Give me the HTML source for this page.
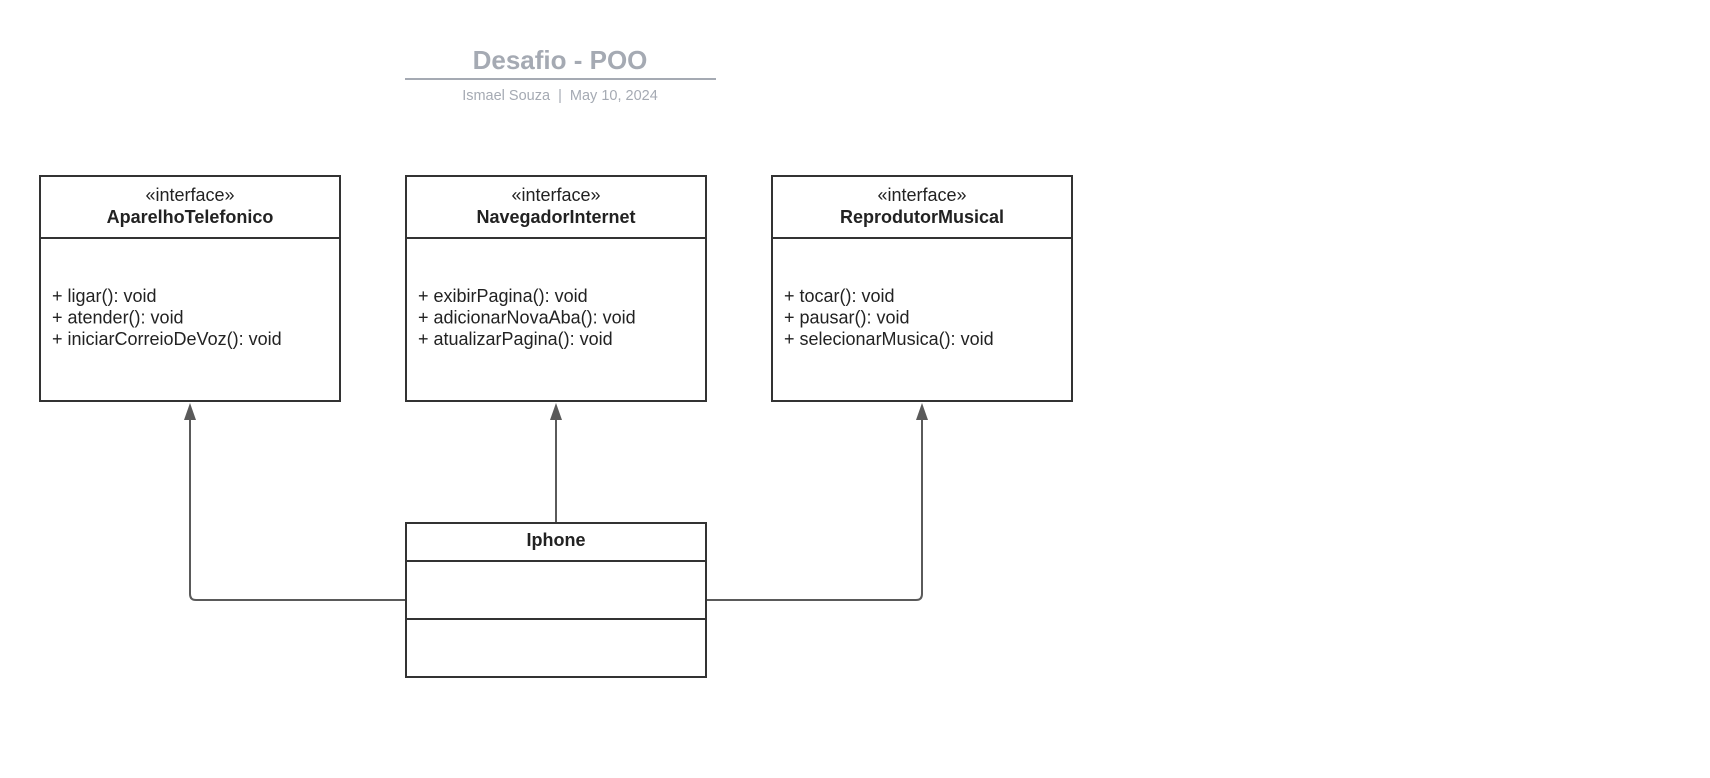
<!DOCTYPE html>
<html><head><meta charset="utf-8"><style>
body{margin:0;background:#fff;}
svg{display:block;}
text{font-family:"Liberation Sans",Arial,sans-serif;}
</style></head><body>
<svg width="1710" height="778" viewBox="0 0 1710 778" xmlns="http://www.w3.org/2000/svg">
<rect width="1710" height="778" fill="#fff"/>
<text x="560" y="69" text-anchor="middle" font-size="26" font-weight="bold" fill="#a5aab3">Desafio - POO</text>
<line x1="405" y1="79" x2="716" y2="79" stroke="#a5aab3" stroke-width="2"/>
<text x="560" y="100" text-anchor="middle" font-size="14.5" fill="#a5aab3">Ismael Souza&#160;&#160;|&#160;&#160;May 10, 2024</text>

<g stroke="#333" stroke-width="2" fill="#fff">
<rect x="40" y="176" width="300" height="225"/><line x1="40" y1="238" x2="340" y2="238"/>
<rect x="406" y="176" width="300" height="225"/><line x1="406" y1="238" x2="706" y2="238"/>
<rect x="772" y="176" width="300" height="225"/><line x1="772" y1="238" x2="1072" y2="238"/>
<rect x="406" y="523" width="300" height="154"/><line x1="406" y1="561" x2="706" y2="561"/><line x1="406" y1="619" x2="706" y2="619"/>
</g>

<g font-size="18" fill="#222" text-anchor="middle">
<text x="190" y="201">«interface»</text><text x="190" y="223" font-weight="bold">AparelhoTelefonico</text>
<text x="556" y="201">«interface»</text><text x="556" y="223" font-weight="bold">NavegadorInternet</text>
<text x="922" y="201">«interface»</text><text x="922" y="223" font-weight="bold">ReprodutorMusical</text>
<text x="556" y="546" font-weight="bold">Iphone</text>
</g>
<g font-size="18" fill="#222">
<text x="52" y="302">+ ligar(): void</text><text x="52" y="323.5">+ atender(): void</text><text x="52" y="345">+ iniciarCorreioDeVoz(): void</text>
<text x="418" y="302">+ exibirPagina(): void</text><text x="418" y="323.5">+ adicionarNovaAba(): void</text><text x="418" y="345">+ atualizarPagina(): void</text>
<text x="784" y="302">+ tocar(): void</text><text x="784" y="323.5">+ pausar(): void</text><text x="784" y="345">+ selecionarMusica(): void</text>
</g>

<g stroke="#5a5a5a" stroke-width="2" fill="none">
<path d="M405 600 H196 Q190 600 190 594 V418"/>
<path d="M556 522 V418"/>
<path d="M707 600 H916 Q922 600 922 594 V418"/>
</g>
<g fill="#5a5a5a">
<polygon points="190,403 184,420 196,420"/>
<polygon points="556,403 550,420 562,420"/>
<polygon points="922,403 916,420 928,420"/>
</g>
</svg>
</body></html>
